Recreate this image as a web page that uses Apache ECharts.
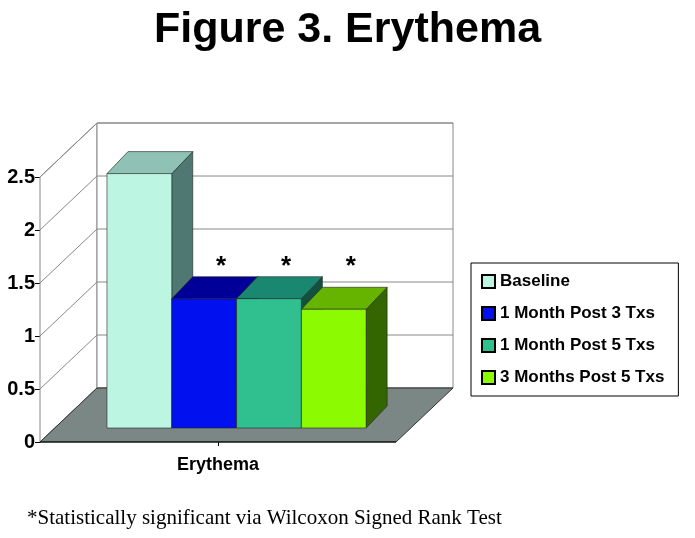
<!DOCTYPE html>
<html><head><meta charset="utf-8">
<script src="https://cdn.jsdelivr.net/npm/echarts@6/dist/echarts.min.js"></script>
<style>html,body{margin:0;padding:0;background:#fff}#c{width:695px;height:538px}</style>
</head><body><div id="c"></div>
<script>
const categories = ['Erythema'];
const seriesNames = ['Baseline','1 Month Post 3 Txs','1 Month Post 5 Txs','3 Months Post 5 Txs'];
const values = [2.4, 1.22, 1.22, 1.12];
const significant = [false, true, true, true];
const yTicks = [0, 0.5, 1, 1.5, 2, 2.5];
const faceColors = [
  ['#bdf5e3','#8fc1b5','#4f7873'],
  ['#0010ee','#000099','#00006a'],
  ['#30c090','#1a8870','#12503f'],
  ['#8cfa00','#66b400','#336600']
];
const DX = 57, DY = -54;
const chart = echarts.init(document.getElementById('c'));
function wallRender(params, api){
  const cs = params.coordSys;
  const x0 = cs.x, x1 = cs.x + cs.width;
  const y0 = api.coord([categories[0], 0])[1];
  const yTop = api.coord([categories[0], 2.5])[1];
  const ch = [];
  const ls = {stroke:'#888', lineWidth:1};
  ch.push({type:'polygon', shape:{points:[[x0,yTop],[x0+DX,yTop+DY],[x0+DX,y0+DY],[x0,y0]]}, style:{fill:'#fff', stroke:'#888'}});
  ch.push({type:'rect', shape:{x:x0+DX,y:yTop+DY,width:cs.width,height:y0-yTop}, style:{fill:'#fff', stroke:'#888'}});
  yTicks.forEach(v=>{
    const y = api.coord([categories[0], v])[1];
    ch.push({type:'line', shape:{x1:x0,y1:y,x2:x0+DX,y2:y+DY}, style:ls});
    ch.push({type:'line', shape:{x1:x0+DX,y1:y+DY,x2:x1+DX,y2:y+DY}, style:ls});
  });
  ch.push({type:'polygon', shape:{points:[[x0,y0],[x1,y0],[x1+DX,y0+DY],[x0+DX,y0+DY]]}, style:{fill:'#7a8785', stroke:'#333', lineWidth:1}});
  ch.push({type:'line', shape:{x1:x0,y1:y0,x2:x1,y2:y0}, style:{stroke:'#000',lineWidth:1.2}});
  return {type:'group', children:ch};
}
const maxSig = Math.max(...values.filter((v,i)=>significant[i]));
function barRender(i){
  return function(params, api){
    const cs = params.coordSys;
    const v = api.value(1);
    const y0 = api.coord([categories[0], 0])[1];
    const yv = api.coord([categories[0], v])[1];
    const ySig = api.coord([categories[0], maxSig])[1];
    const fx = 0.146 + i*0.182;
    const xa = cs.x + cs.width*fx + 15, xb = cs.x + cs.width*(fx+0.182) + 15;
    const ya = yv - 14, yb = y0 - 14;
    const dx = 21, dy = -22;
    const c = faceColors[i];
    const st = {stroke:'#222', lineWidth:0.6};
    const ch = [
      {type:'polygon', shape:{points:[[xb,ya],[xb+dx,ya+dy],[xb+dx,yb+dy],[xb,yb]]}, style:Object.assign({fill:c[2]},st)},
      {type:'polygon', shape:{points:[[xa,ya],[xa+dx,ya+dy],[xb+dx,ya+dy],[xb,ya]]}, style:Object.assign({fill:c[1]},st)},
      {type:'rect', shape:{x:xa,y:ya,width:xb-xa,height:yb-ya}, style:Object.assign({fill:c[0]},st)}
    ];
    if (significant[i]) ch.push({type:'text', style:{text:'*', x:(xa+xb)/2+17, y:ySig-14+dy-10, align:'center', verticalAlign:'middle', font:'bold 26px Arial', fill:'#000'}});
    return {type:'group', children:ch};
  };
}
const series = [{type:'custom', name:'_wall', silent:true, z:1, data:[[categories[0],0]], renderItem:wallRender}];
seriesNames.forEach((n,i)=>series.push({type:'custom', name:n, z:2+i, itemStyle:{color:faceColors[i][0], borderColor:'#000', borderWidth:1}, data:[[categories[0], values[i]]], renderItem:barRender(i)}));
chart.setOption({
  animation:false,
  title:{text:'Figure 3. Erythema', left:'center', top:4, textStyle:{fontFamily:'Arial', fontWeight:'bold', fontSize:43, color:'#000'}},
  legend:{data:seriesNames, orient:'vertical', left:471, top:263, itemWidth:13, itemHeight:13, itemGap:15, icon:'rect',
    padding:[10,14,10,10], borderColor:'#000', borderWidth:1, textStyle:{fontFamily:'Arial', fontWeight:'bold', fontSize:17, color:'#000'}},
  grid:{left:40, top:177, width:356, height:265},
  xAxis:{type:'category', data:categories, axisLine:{show:false}, axisTick:{show:true, alignWithLabel:true, length:4, lineStyle:{color:'#000'}},
    axisLabel:{margin:14, fontFamily:'Arial', fontWeight:'bold', fontSize:18, color:'#000'}},
  yAxis:{type:'value', min:0, max:2.5, interval:0.5, splitLine:{show:false}, axisLine:{show:true, lineStyle:{color:'#000'}},
    axisTick:{show:true, length:5, lineStyle:{color:'#000'}}, axisLabel:{margin:5, fontFamily:'Arial', fontWeight:'bold', fontSize:20, color:'#000'}},
  graphic:[{type:'text', left:27, top:508, style:{text:'*Statistically significant via Wilcoxon Signed Rank Test', font:'21px "Liberation Serif"', fill:'#000'}}],
  series:series
});
</script></body></html>
